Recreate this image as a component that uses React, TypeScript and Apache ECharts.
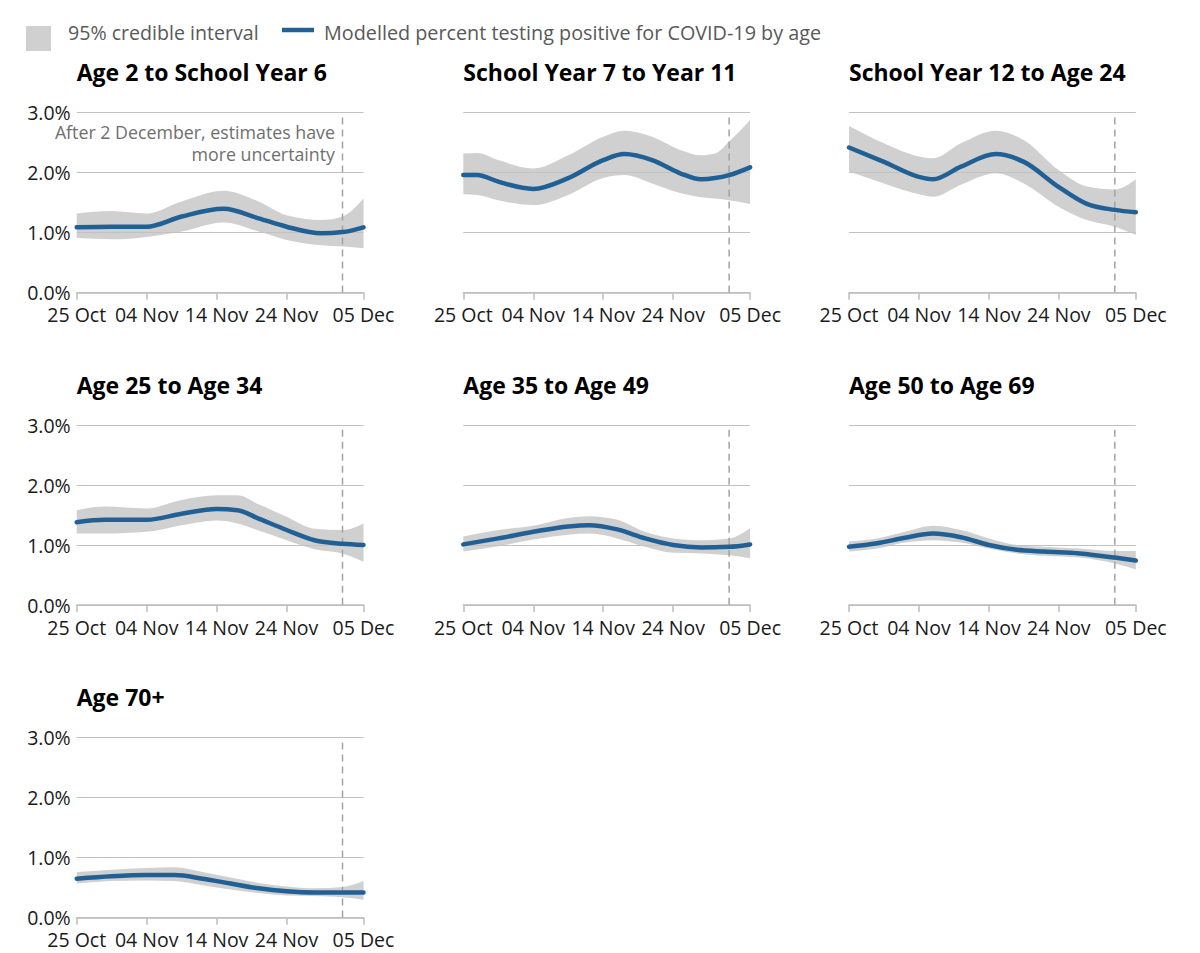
import React, { useEffect, useRef } from "react";
import * as echarts from "echarts";

const panelTitles = [
  "Age 2 to School Year 6",
  "School Year 7 to Year 11",
  "School Year 12 to Age 24",
  "Age 25 to Age 34",
  "Age 35 to Age 49",
  "Age 50 to Age 69",
  "Age 70+",
];

const tickDays = [0, 10, 20, 30, 41];
const tickLabels = ["25 Oct", "04 Nov", "14 Nov", "24 Nov", "05 Dec"];
const cutoffDay = 38;

// Panel 1: Age 2 to School Year 6
const days1 = [0, 5, 10, 15, 21, 26, 30, 35, 38, 41];
const mid1 = [1.09, 1.1, 1.1, 1.27, 1.4, 1.24, 1.1, 0.99, 1.01, 1.09];
const hi1 = [1.32, 1.36, 1.32, 1.52, 1.7, 1.52, 1.29, 1.21, 1.27, 1.57];
const lo1 = [0.91, 0.89, 0.93, 1.02, 1.17, 1.02, 0.88, 0.79, 0.77, 0.74];

// Panel 2: School Year 7 to Year 11
const days2 = [0, 2, 5, 10, 15, 20, 23, 27, 31, 34, 36, 38, 41];
const mid2 = [1.96, 1.96, 1.85, 1.73, 1.91, 2.21, 2.31, 2.21, 1.99, 1.89, 1.91, 1.96, 2.09];
const hi2 = [2.32, 2.33, 2.21, 2.07, 2.29, 2.6, 2.7, 2.6, 2.38, 2.29, 2.32, 2.52, 2.88];
const lo2 = [1.64, 1.63, 1.54, 1.46, 1.63, 1.91, 1.96, 1.82, 1.66, 1.59, 1.57, 1.54, 1.48];

// Panel 3: School Year 12 to Age 24
const days3 = [0, 5, 10, 12, 16, 21, 25, 30, 34, 38, 41];
const mid3 = [2.42, 2.18, 1.93, 1.89, 2.1, 2.31, 2.18, 1.76, 1.48, 1.38, 1.34];
const hi3 = [2.78, 2.49, 2.27, 2.24, 2.49, 2.7, 2.54, 2.04, 1.77, 1.72, 1.89];
const lo3 = [2.02, 1.82, 1.64, 1.6, 1.8, 1.99, 1.82, 1.43, 1.21, 1.1, 0.96];

// Panel 4: Age 25 to Age 34
const days4 = [0, 4, 10, 15, 20, 23, 26, 30, 34, 38, 41];
const mid4 = [1.38, 1.42, 1.42, 1.52, 1.6, 1.58, 1.44, 1.25, 1.08, 1.02, 1.0];
const hi4 = [1.58, 1.64, 1.61, 1.75, 1.83, 1.83, 1.68, 1.47, 1.27, 1.25, 1.36];
const lo4 = [1.19, 1.19, 1.22, 1.33, 1.41, 1.36, 1.24, 1.08, 0.93, 0.86, 0.72];

// Panel 5: Age 35 to Age 49
const days5 = [0, 5, 10, 15, 18, 22, 26, 30, 34, 38, 41];
const mid5 = [1.01, 1.11, 1.22, 1.31, 1.33, 1.26, 1.11, 1.0, 0.96, 0.97, 1.01];
const hi5 = [1.14, 1.25, 1.32, 1.45, 1.48, 1.42, 1.22, 1.11, 1.08, 1.11, 1.28];
const lo5 = [0.89, 0.98, 1.09, 1.17, 1.19, 1.11, 0.97, 0.87, 0.86, 0.83, 0.78];

// Panel 6: Age 50 to Age 69
const days6 = [0, 4, 8, 12, 16, 20, 24, 28, 33, 38, 41];
const mid6 = [0.97, 1.03, 1.12, 1.19, 1.13, 1.0, 0.92, 0.89, 0.86, 0.79, 0.74];
const hi6 = [1.06, 1.11, 1.22, 1.32, 1.25, 1.11, 1.0, 0.97, 0.94, 0.9, 0.9];
const lo6 = [0.89, 0.94, 1.04, 1.08, 1.04, 0.94, 0.86, 0.82, 0.79, 0.69, 0.59];

// Panel 7: Age 70+
const days7 = [0, 5, 10, 14, 18, 22, 26, 30, 34, 38, 41];
const mid7 = [0.65, 0.69, 0.71, 0.71, 0.65, 0.57, 0.49, 0.44, 0.42, 0.42, 0.42];
const hi7 = [0.76, 0.8, 0.83, 0.84, 0.76, 0.67, 0.58, 0.52, 0.49, 0.51, 0.61];
const lo7 = [0.57, 0.61, 0.62, 0.61, 0.54, 0.47, 0.41, 0.37, 0.36, 0.34, 0.3];

const panelDays = [days1, days2, days3, days4, days5, days6, days7];
const panelMid = [mid1, mid2, mid3, mid4, mid5, mid6, mid7];
const panelHi = [hi1, hi2, hi3, hi4, hi5, hi6, hi7];
const panelLo = [lo1, lo2, lo3, lo4, lo5, lo6, lo7];

const annotationLines = ["After 2 December, estimates have", "more uncertainty"];

const FONT = "'Open Sans', sans-serif";
const BLUE = "#206095";
const BAND = "#d0d0d0";

const colLeft = [76.7, 463.3, 849];
const rowTop = [112.7, 425, 737.7];
const plotW = 286.8;
const plotH = 180;

// Monotone-x cubic path segments through pixel points (like d3.curveMonotoneX)
function sign(v: number) {
  return v < 0 ? -1 : 1;
}
function tangents(pts: number[][]) {
  const n = pts.length;
  const t: number[] = new Array(n).fill(0);
  const s: number[] = [];
  for (let i = 0; i < n - 1; i++) {
    const h = pts[i + 1][0] - pts[i][0];
    s.push(h ? (pts[i + 1][1] - pts[i][1]) / h : 0);
  }
  for (let i = 1; i < n - 1; i++) {
    const h0 = pts[i][0] - pts[i - 1][0];
    const h1 = pts[i + 1][0] - pts[i][0];
    const s0 = s[i - 1];
    const s1 = s[i];
    const p = (s0 * h1 + s1 * h0) / (h0 + h1);
    t[i] = (sign(s0) + sign(s1)) * Math.min(Math.abs(s0), Math.abs(s1), 0.5 * Math.abs(p)) || 0;
  }
  if (n > 1) {
    const h0 = pts[1][0] - pts[0][0];
    t[0] = h0 ? (3 * s[0] - t[1]) / 2 : t[1];
    const hn = pts[n - 1][0] - pts[n - 2][0];
    t[n - 1] = hn ? (3 * s[n - 2] - t[n - 2]) / 2 : t[n - 2];
  }
  return t;
}
function curveSegments(pts: number[][]) {
  const t = tangents(pts);
  let d = "";
  for (let i = 0; i < pts.length - 1; i++) {
    const [x0, y0] = pts[i];
    const [x1, y1] = pts[i + 1];
    const dx = (x1 - x0) / 3;
    d += ` C ${x0 + dx} ${y0 + dx * t[i]} ${x1 - dx} ${y1 - dx * t[i + 1]} ${x1} ${y1}`;
  }
  return d;
}

export default function App() {
  const ref = useRef<HTMLDivElement>(null);

  useEffect(() => {
    if (!ref.current) return;
    const chart = echarts.init(ref.current, null, { renderer: "svg" });

    const grids: any[] = [];
    const xAxes: any[] = [];
    const yAxes: any[] = [];
    const titles: any[] = [];
    const series: any[] = [];

    panelTitles.forEach((t, i) => {
      const col = i % 3;
      const row = Math.floor(i / 3);
      const left = colLeft[col];
      const top = rowTop[row];
      grids.push({ left, top, width: plotW, height: plotH, containLabel: false });
      titles.push({
        text: t,
        left,
        top: top - 52,
        padding: 0,
        textStyle: { fontFamily: FONT, fontSize: 23, fontWeight: "bold", color: "#000" },
      });
      xAxes.push({
        type: "value",
        gridIndex: i,
        min: 0,
        max: 41,
        axisLine: { show: true, lineStyle: { color: "#bdbdbd", width: 1.5 } },
        axisTick: {
          show: true,
          length: 7,
          customValues: tickDays,
          lineStyle: { color: "#bdbdbd", width: 1.5 },
        },
        axisLabel: {
          customValues: tickDays,
          formatter: (v: number) => {
            const k = tickDays.indexOf(Math.round(v));
            return k >= 0 ? tickLabels[k] : "";
          },
          fontFamily: FONT,
          fontSize: 19.5,
          lineHeight: 20,
          color: "#1a1a1a",
          margin: 12,
          hideOverlap: false,
        },
        splitLine: { show: false },
      });
      yAxes.push({
        type: "value",
        gridIndex: i,
        min: 0,
        max: 3,
        interval: 1,
        axisLine: { show: false },
        axisTick: { show: false },
        splitLine: { show: true, lineStyle: { color: "#c2c2c2", width: 1.2 } },
        axisLabel: {
          show: col === 0,
          formatter: (v: number) => v.toFixed(1) + "%",
          fontFamily: FONT,
          fontSize: 19.5,
          lineHeight: 20,
          color: "#1a1a1a",
          margin: 6,
        },
      });

      const d = panelDays[i];
      const lo = panelLo[i];
      const hi = panelHi[i];
      const mid = panelMid[i];

      series.push({
        type: "custom",
        name: "95% credible interval",
        xAxisIndex: i,
        yAxisIndex: i,
        silent: true,
        z: -1,
        encode: { x: 0, y: [1, 2] },
        data: d.map((x, k) => [x, lo[k], hi[k]]),
        renderItem: (params: any, api: any) => {
          if (params.dataIndex !== 0) return null;
          const upper = d.map((x, k) => api.coord([x, hi[k]]));
          const lower = d.map((x, k) => api.coord([x, lo[k]])).reverse();
          let path = `M ${upper[0][0]} ${upper[0][1]}` + curveSegments(upper);
          path += ` L ${lower[0][0]} ${lower[0][1]}` + curveSegments(lower) + " Z";
          return {
            type: "path",
            shape: { pathData: path },
            style: { fill: BAND, stroke: null },
          };
        },
      });
      series.push({
        type: "custom",
        name: "Modelled percent testing positive for COVID-19 by age",
        xAxisIndex: i,
        yAxisIndex: i,
        silent: true,
        z: 4,
        encode: { x: 0, y: 1 },
        data: d.map((x, k) => [x, mid[k]]),
        renderItem: (params: any, api: any) => {
          if (params.dataIndex !== 0) return null;
          const pts = d.map((x, k) => api.coord([x, mid[k]]));
          const path = `M ${pts[0][0]} ${pts[0][1]}` + curveSegments(pts);
          const c0 = api.coord([cutoffDay, 2.92]);
          const c1 = api.coord([cutoffDay, 0]);
          return {
            type: "group",
            children: [
              {
                type: "line",
                shape: { x1: c0[0], y1: c0[1], x2: c1[0], y2: c1[1] },
                style: { stroke: "#a3a3a3", lineWidth: 1.5, lineDash: [7, 5] },
              },
              {
                type: "path",
                shape: { pathData: path },
                style: {
                  fill: "none",
                  stroke: BLUE,
                  lineWidth: 4.5,
                  lineCap: "round",
                  lineJoin: "round",
                },
              },
            ],
          };
        },
      });
    });

    chart.setOption({
      animation: false,
      textStyle: { fontFamily: FONT },
      title: titles,
      grid: grids,
      xAxis: xAxes,
      yAxis: yAxes,
      series,
      graphic: [
        { type: "rect", z: 100, shape: { x: 26, y: 26, width: 25, height: 25 }, style: { fill: BAND } },
        {
          type: "text",
          z: 100,
          x: 68,
          y: 32,
          style: {
            text: "95% credible interval",
            fontFamily: FONT,
            fontSize: 19.6,
            fill: "#595959",
            verticalAlign: "middle",
          },
        },
        {
          type: "line",
          z: 100,
          shape: { x1: 282, y1: 30, x2: 314, y2: 30 },
          style: { stroke: BLUE, lineWidth: 4.5 },
        },
        {
          type: "text",
          z: 100,
          x: 324,
          y: 32,
          style: {
            text: "Modelled percent testing positive for COVID-19 by age",
            fontFamily: FONT,
            fontSize: 19.8,
            fill: "#595959",
            verticalAlign: "middle",
          },
        },
        {
          type: "text",
          z: 100,
          x: 335,
          y: 132,
          style: {
            text: annotationLines[0],
            fontFamily: FONT,
            fontSize: 17.8,
            lineHeight: 18,
            fill: "#6f6f6f",
            align: "right",
            verticalAlign: "middle",
          },
        },
        {
          type: "text",
          z: 100,
          x: 335,
          y: 154,
          style: {
            text: annotationLines[1],
            fontFamily: FONT,
            fontSize: 17.8,
            lineHeight: 18,
            fill: "#6f6f6f",
            align: "right",
            verticalAlign: "middle",
          },
        },
      ],
    });

    return () => chart.dispose();
  }, []);

  return (
    <div
      ref={ref}
      style={{ position: "absolute", left: 0, top: 0, width: 1200, height: 953, background: "#fff" }}
    />
  );
}
